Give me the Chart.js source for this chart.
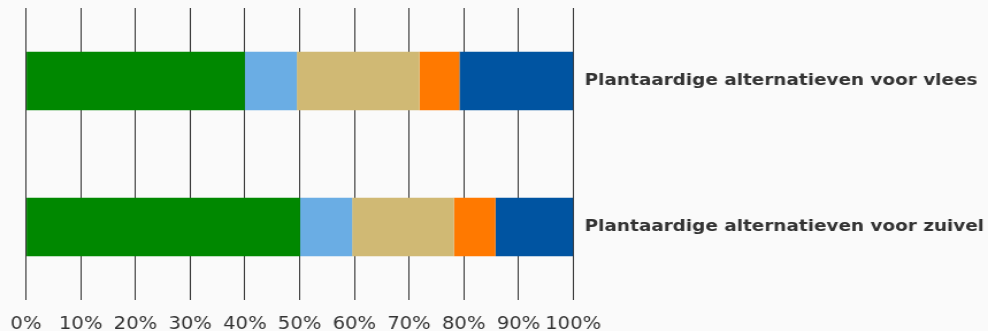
<!DOCTYPE html>
<html>
<head>
<meta charset="utf-8">
<script src="https://cdn.jsdelivr.net/npm/chart.js@4/dist/chart.umd.min.js"></script>
<style>
  html, body { margin: 0; padding: 0; background: #fafafa; overflow: hidden; }
  /* the drawing is made on a narrower canvas and widened horizontally */
  #wrap { width: 859px; height: 331px; transform: scaleX(1.1502); transform-origin: 0 0; }
  #c { display: block; }
</style>
</head>
<body>
<div id="wrap"><canvas id="c" width="859" height="331"></canvas></div>
<script>
// Categories (shown on the right-hand axis)
const categories = [
  'Plantaardige alternatieven voor vlees',
  'Plantaardige alternatieven voor zuivel'
];

// Answer groups, in stacking order
const seriesNames = ['Antwoord 1', 'Antwoord 2', 'Antwoord 3', 'Antwoord 4', 'Antwoord 5'];

// Share per answer group (%), one value per category
const series1 = [40.0, 50.1];
const series2 = [9.5, 9.5];
const series3 = [22.4, 18.6];
const series4 = [7.3, 7.6];
const series5 = [20.8, 14.2];

// Percentage axis ticks
const tickValues = [0, 10, 20, 30, 40, 50, 60, 70, 80, 90, 100];

const colors = ['#008800', '#6aade4', '#d0b974', '#ff7900', '#0054a1'];
const allSeries = [series1, series2, series3, series4, series5];

const datasets = allSeries.map((vals, i) => ({
  label: seriesNames[i],
  data: vals,
  backgroundColor: colors[i],
  borderWidth: 0,
  barPercentage: 0.4,
  categoryPercentage: 1.0
}));

// keep the plot area exactly where the layout padding puts it
const noOverhang = (scale) => {
  scale.paddingLeft = 0; scale.paddingRight = 0;
  scale.paddingTop = 0; scale.paddingBottom = 0;
};

new Chart(document.getElementById('c'), {
  type: 'bar',
  data: { labels: categories, datasets },
  options: {
    indexAxis: 'y',
    responsive: false,
    animation: false,
    devicePixelRatio: 1,
    layout: { padding: { left: 22.6, top: 8, right: -6.6, bottom: -19 } },
    plugins: { legend: { display: false }, tooltip: { enabled: false } },
    scales: {
      x: {
        stacked: true,
        min: 0,
        max: 100,
        afterBuildTicks: (axis) => { axis.ticks = tickValues.map(v => ({ value: v })); },
        afterFit: noOverhang,
        ticks: {
          callback: (v) => v + '%',
          font: { family: 'DejaVu Sans', size: 17, lineHeight: 1.0 },
          color: '#333333',
          padding: 16.5,
          maxRotation: 0,
          autoSkip: false
        },
        grid: { color: '#333333', lineWidth: 1, drawTicks: false },
        border: { display: false }
      },
      y: {
        stacked: true,
        position: 'right',
        afterFit: noOverhang,
        grid: { display: false, drawTicks: false },
        border: { display: false },
        ticks: {
          font: { family: 'DejaVu Sans', size: 16, weight: 'bold' },
          color: '#333333',
          padding: 10
        }
      }
    }
  }
});
</script>
</body>
</html>
